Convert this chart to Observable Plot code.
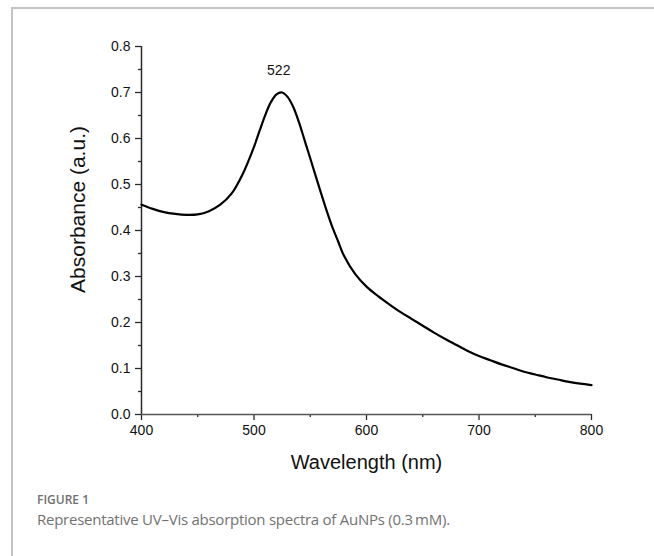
<!DOCTYPE html>
<html>
<head>
<meta charset="utf-8">
<script src="https://cdn.jsdelivr.net/npm/d3@7"></script>
<script src="https://cdn.jsdelivr.net/npm/@observablehq/plot@0.6"></script>
<style>
  html, body { margin: 0; padding: 0; background: #fff; }
  body { width: 654px; height: 556px; position: relative; overflow: hidden; }
  #frame { position: absolute; left: 11px; top: 7px; width: 700px; height: 600px;
           border-top: 2px solid #c4c4c4; border-left: 2px solid #c4c4c4; }
  #chart { position: absolute; left: 0; top: 0; }
  #fig { position: absolute; left: 37px; top: 494px; font-family: "Open Sans", sans-serif;
         font-size: 12px; line-height: 12px; font-weight: 600; color: #707070; }
  #cap { position: absolute; left: 37px; top: 511px; font-family: "Open Sans", sans-serif;
         font-size: 15px; line-height: 17px; font-weight: 400; color: #727272; letter-spacing: -0.25px; }
</style>
</head>
<body>
<div id="frame"></div>
<div id="chart"></div>
<div id="fig">FIGURE 1</div>
<div id="cap">Representative UV–Vis absorption spectra of AuNPs (0.3&#8201;mM).</div>
<script>
// Wavelength (nm)
const wavelength = [400,410,420,430,440,450,460,470,480,490,500,505,510,515,520,525,530,535,540,545,550,555,560,565,570,575,580,590,600,610,620,630,640,650,660,670,680,690,700,710,720,730,740,750,760,770,780,790,800];
// Absorbance (a.u.)
const absorbance = [0.456,0.447,0.440,0.436,0.434,0.435,0.442,0.456,0.480,0.523,0.582,0.617,0.651,0.679,0.696,0.700,0.690,0.668,0.635,0.596,0.557,0.517,0.478,0.440,0.405,0.375,0.345,0.305,0.278,0.258,0.240,0.223,0.208,0.193,0.178,0.164,0.151,0.138,0.127,0.118,0.109,0.101,0.093,0.087,0.081,0.076,0.071,0.067,0.064];
const peakLabel = ["522"];
const peakX = [522];
const peakY = [0.700];
const xTicks = [400,500,600,700,800];
const xMinor = [450,550,650,750];
const yTicks = [0,0.1,0.2,0.3,0.4,0.5,0.6,0.7,0.8];
const yMinor = [0.05,0.15,0.25,0.35,0.45,0.55,0.65,0.75];
const xTitle = "Wavelength (nm)";
const yTitle = "Absorbance (a.u.)";

const data = wavelength.map((w, i) => ({w, a: absorbance[i]}));
const peaks = peakLabel.map((t, i) => ({t, x: peakX[i], y: peakY[i]}));
const axisColor = "#2a2a2a";

const chart = Plot.plot({
  width: 654,
  height: 480,
  marginLeft: 141,
  marginRight: 63,
  marginTop: 46,
  marginBottom: 66,
  x: {domain: [400, 800], label: null},
  y: {domain: [0, 0.8], label: null},
  style: {fontFamily: "'Liberation Sans', Arial, sans-serif", fontSize: "14px", color: "#111", background: "transparent", overflow: "visible"},
  marks: [
    Plot.axisX(xTicks, {tickSize: 6, tickPadding: 5, tickFormat: d => String(d), label: null, stroke: axisColor, strokeWidth: 1.3, fontSize: 14}),
    Plot.axisX(xMinor, {tickSize: 3, tickFormat: () => "", label: null, stroke: axisColor, strokeWidth: 1.3}),
    Plot.axisY(yTicks, {tickSize: 6, tickPadding: 5, tickFormat: d3.format(".1f"), label: null, stroke: axisColor, strokeWidth: 1.3, fontSize: 14}),
    Plot.axisY(yMinor, {tickSize: 3, tickFormat: () => "", label: null, stroke: axisColor, strokeWidth: 1.3}),
    Plot.ruleX([400], {stroke: axisColor, strokeWidth: 1.5}),
    Plot.ruleY([0], {stroke: "#555", strokeWidth: 1.5}),
    Plot.line(data, {x: "w", y: "a", stroke: "#000", strokeWidth: 2.2, curve: "catmull-rom"}),
    Plot.text(peaks, {x: "x", y: "y", text: "t", dy: -22, fontSize: 14, fill: "#111"}),
    Plot.text([xTitle], {frameAnchor: "bottom", textAnchor: "middle", lineAnchor: "middle", dy: 48, fontSize: 20, fill: "#111"}),
    Plot.text([yTitle], {frameAnchor: "left", textAnchor: "middle", lineAnchor: "middle", rotate: -90, dx: -63, dy: -21, fontSize: 21, fill: "#111"})
  ]
});
document.getElementById("chart").appendChild(chart);
</script>
</body>
</html>
